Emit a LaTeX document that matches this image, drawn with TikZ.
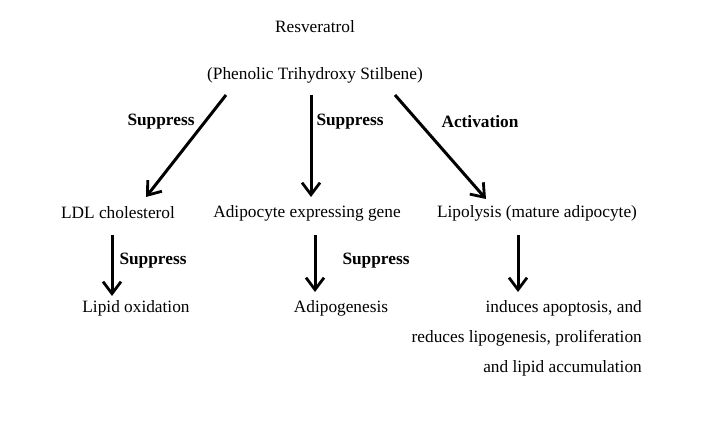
\documentclass[tikz,border=0pt]{standalone}
\usepackage{fontspec}
\setmainfont{Liberation Serif}
\usetikzlibrary{arrows.meta}
\begin{document}
\begin{tikzpicture}[x=1pt,y=-1pt,
  t/.style={inner sep=0pt,font=\fontsize{17.3}{20}\selectfont},
  b/.style={t,font=\fontsize{17.3}{20}\selectfont\bfseries},
  ar/.style={line width=3pt,-{Straight Barb[length=12pt,width=18pt,line width=2.8pt]}}]
\useasboundingbox (0,0) rectangle (702,443);
\node[t] (res) at (315,27) {Resveratrol};
\node[t] (phe) at (315,75) {(Phenolic Trihydroxy Stilbene)};
\coordinate (a1s) at (226,95); \coordinate (a1e) at (146,197);
\coordinate (a2s) at (311,95); \coordinate (a2e) at (311,197);
\coordinate (a3s) at (395,95); \coordinate (a3e) at (486,199);
\draw[ar] (a1s) -- (a1e);
\draw[ar] (a2s) -- (a2e);
\draw[ar] (a3s) -- (a3e);
\node[b] (s1) at (161,122) {Suppress};
\node[b] (s2) at (350,122) {Suppress};
\node[b] (ac) at (480,122) {Activation};
\node[t] (ldl) at (118,213) {LDL cholesterol};
\node[t] (adi) at (307,213) {Adipocyte expressing gene};
\node[t] (lip) at (537,213) {Lipolysis (mature adipocyte)};
\coordinate (b1s) at (112,235); \coordinate (b1e) at (112,296);
\coordinate (b2s) at (315,235); \coordinate (b2e) at (315,292);
\coordinate (b3s) at (518,235); \coordinate (b3e) at (518,292);
\draw[ar] (b1s) -- (b1e);
\draw[ar] (b2s) -- (b2e);
\draw[ar] (b3s) -- (b3e);
\node[b] (s3) at (153,261) {Suppress};
\node[b] (s4) at (376,261) {Suppress};
\node[t] (lo) at (136,308) {Lipid oxidation};
\node[t] (ag) at (341,308) {Adipogenesis};
\node[t,anchor=east] (r1) at (642,308) {induces apoptosis, and};
\node[t,anchor=east] (r2) at (642,338) {reduces lipogenesis, proliferation};
\node[t,anchor=east] (r3) at (642,368) {and lipid accumulation};
\end{tikzpicture}
\end{document}
